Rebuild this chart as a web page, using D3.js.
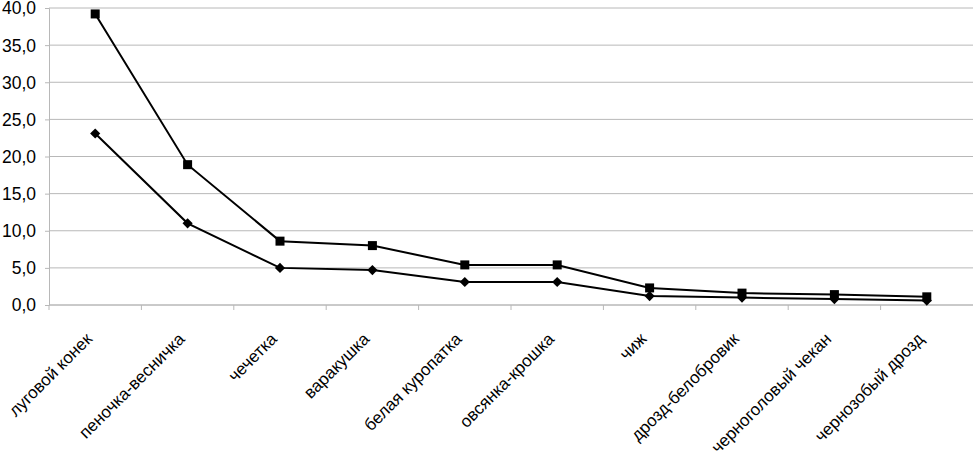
<!DOCTYPE html>
<html>
<head>
<meta charset="utf-8">
<script src="https://cdn.jsdelivr.net/npm/d3@7"></script>
<style>
  body { margin: 0; background: #fff; }
  svg text { font-family: "Liberation Sans", Arial, sans-serif; fill: #000; }
</style>
</head>
<body>
<div id="grafico"></div>
<script>
const especies = [
  "луговой конек", "пеночка-весничка", "чечетка", "варакушка", "белая куропатка",
  "овсянка-крошка", "чиж", "дрозд-белобровик", "черноголовый чекан", "чернозобый дрозд",
];
const serieQuadrado = [39.2, 18.9, 8.6, 8.0, 5.4, 5.4, 2.3, 1.6, 1.4, 1.1];
const serieLosango = [23.1, 11.0, 5.0, 4.7, 3.1, 3.1, 1.2, 1.0, 0.8, 0.6];
const ticksY = [0, 5, 10, 15, 20, 25, 30, 35, 40];

const width = 973;
const height = 454;
const margin = { top: 8, right: 0, bottom: 149, left: 49 };
const innerWidth = width - margin.left - margin.right;
const innerHeight = height - margin.top - margin.bottom;

const svg = d3
  .select("#grafico")
  .append("svg")
  .attr("width", width)
  .attr("height", height)
  .append("g")
  .attr("transform", "translate(" + margin.left + "," + margin.top + ")");

const x = d3.scaleBand().domain(especies).range([0, innerWidth]);
const y = d3.scaleLinear().domain([0, 40]).range([innerHeight, 0]);
const fmt = (v) => d3.format(".1f")(v).replace(".", ",");

// linhas de grade
svg
  .append("g")
  .selectAll("line")
  .data(ticksY)
  .enter()
  .append("line")
  .attr("x1", 0)
  .attr("x2", innerWidth)
  .attr("y1", (d) => y(d))
  .attr("y2", (d) => y(d))
  .attr("stroke", "#b8b8b8")
  .attr("stroke-width", 1);

// eixo Y
const eixoY = svg
  .append("g")
  .call(d3.axisLeft(y).tickValues(ticksY).tickFormat(fmt).tickSize(4).tickPadding(9));
eixoY.select(".domain").attr("stroke", "#b8b8b8");
eixoY.selectAll(".tick line").attr("stroke", "#b8b8b8");
eixoY.selectAll("text").attr("font-size", "17.5px").attr("dy", "0.34em");

// eixo X
const eixoX = svg
  .append("g")
  .attr("transform", "translate(0," + innerHeight + ")");
eixoX
  .append("line")
  .attr("x1", 0)
  .attr("x2", innerWidth)
  .attr("stroke", "#b8b8b8");
eixoX
  .selectAll(".marca")
  .data(especies)
  .enter()
  .append("line")
  .attr("x1", (d) => x(d))
  .attr("x2", (d) => x(d))
  .attr("y1", 0)
  .attr("y2", 5)
  .attr("stroke", "#b8b8b8");
eixoX
  .selectAll(".rotulo")
  .data(especies)
  .enter()
  .append("text")
  .attr("font-size", "17px")
  .attr("text-anchor", "end")
  .attr(
    "transform",
    (d) => "translate(" + (x(d) + x.bandwidth() / 2 - 2) + ",35) rotate(-45)",
  )
  .text((d) => d);

const cx = (d, i) => x(especies[i]) + x.bandwidth() / 2;
const linha = d3
  .line()
  .x((d, i) => cx(d, i))
  .y((d) => y(d));

[serieLosango, serieQuadrado].forEach((serie) => {
  svg
    .append("path")
    .datum(serie)
    .attr("fill", "none")
    .attr("stroke", "#000")
    .attr("stroke-width", 2)
    .attr("d", linha);
});

// marcadores losango
svg
  .append("g")
  .selectAll("path")
  .data(serieLosango)
  .enter()
  .append("path")
  .attr("d", d3.symbol().type(d3.symbolDiamond2).size(66))
  .attr("transform", (d, i) => "translate(" + cx(d, i) + "," + y(d) + ")")
  .attr("fill", "#000");

// marcadores quadrado
svg
  .append("g")
  .selectAll("rect")
  .data(serieQuadrado)
  .enter()
  .append("rect")
  .attr("x", (d, i) => cx(d, i) - 4.5)
  .attr("y", (d) => y(d) - 4.5)
  .attr("width", 9)
  .attr("height", 9)
  .attr("fill", "#000");
</script>
</body>
</html>
